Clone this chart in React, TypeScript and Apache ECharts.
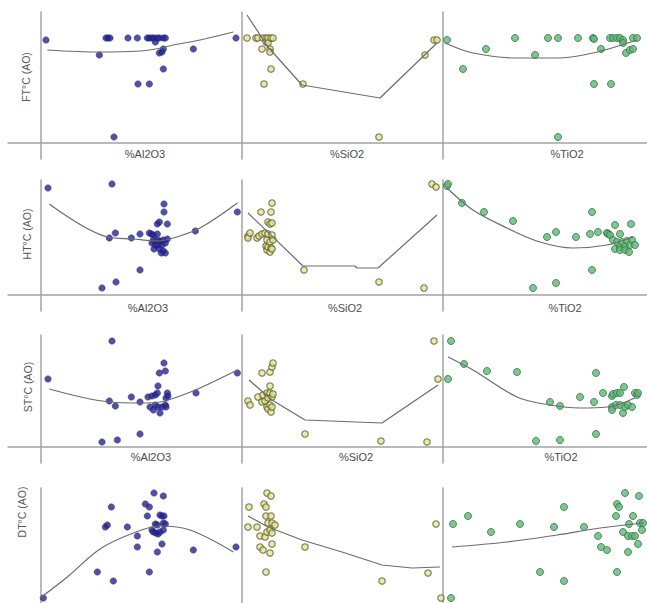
import React, { useEffect, useRef } from "react";
import * as echarts from "echarts";

type Pt = [number, number];

// Ash fusion temperatures (°C, oxidising atmosphere) against ash oxide content.
const ROW_TITLES = ["FT°C (AO)", "HT°C (AO)", "ST°C (AO)", "DT°C (AO)"];
const OXIDE_LABELS = ["%Al2O3", "%SiO2", "%TiO2"];

// ---- FT ----
const FT_AL2O3: Pt[] = [
  [10.7, 1592], [18.7, 1532], [19.7, 1600], [20.0, 1600], [20.3, 1600], [20.9, 1204],
  [23.0, 1600], [24.4, 1600], [24.5, 1416], [25.9, 1600], [26.2, 1600], [26.2, 1416],
  [26.6, 1600], [26.9, 1600], [27.1, 1584], [27.4, 1600], [27.7, 1600], [27.7, 1540],
  [28.1, 1544], [28.3, 1600], [28.3, 1556], [28.3, 1476], [28.6, 1600], [32.8, 1556],
  [39.2, 1600],
];
const FT_AL2O3_FIT: Pt[] = [
  [10.9, 1552], [18.8, 1544], [24.8, 1548], [27.4, 1557], [29.8, 1572], [33.8, 1592], [38.8, 1624],
];
const FT_SIO2: Pt[] = [
  [21.5, 1600], [24.2, 1600], [24.8, 1600], [26.0, 1556], [26.3, 1600], [26.6, 1416],
  [27.2, 1600], [27.2, 1584], [27.8, 1600], [27.8, 1580], [28.4, 1556], [28.4, 1544],
  [28.7, 1600], [28.7, 1476], [29.3, 1600], [38.3, 1416], [61.1, 1204], [74.9, 1532],
  [77.6, 1592], [78.5, 1592],
];
const FT_SIO2_FIT: Pt[] = [
  [21.5, 1692], [27.8, 1564], [38.0, 1412], [61.4, 1360], [78.5, 1580],
];
const FT_TIO2: Pt[] = [
  [0.04, 1592], [0.2, 1476], [0.43, 1556], [0.72, 1600], [0.92, 1532], [1.05, 1600],
  [1.15, 1600], [1.15, 1204], [1.35, 1600], [1.5, 1600], [1.51, 1596], [1.51, 1416],
  [1.58, 1556], [1.67, 1600], [1.68, 1416], [1.7, 1600], [1.74, 1600], [1.77, 1600],
  [1.8, 1592], [1.8, 1580], [1.83, 1540], [1.87, 1552], [1.9, 1600], [1.9, 1556],
  [1.94, 1600],
];
const FT_TIO2_FIT: Pt[] = [
  [0.02, 1580], [0.3, 1540], [0.74, 1520], [1.14, 1520], [1.5, 1540], [1.94, 1592],
];

// ---- HT ----
const HT_AL2O3: Pt[] = [
  [11.0, 1578], [19.1, 1178], [20.2, 1378], [20.6, 1594], [21.1, 1398], [21.2, 1202],
  [23.5, 1378], [24.8, 1394], [24.8, 1250], [26.2, 1398], [26.5, 1394], [26.6, 1358],
  [26.8, 1390], [26.8, 1370], [26.9, 1334], [27.1, 1350], [27.4, 1434], [27.4, 1394],
  [27.4, 1370], [27.5, 1350], [27.7, 1442], [27.7, 1334], [27.8, 1366], [28.0, 1318],
  [28.1, 1350], [28.3, 1370], [28.3, 1326], [28.4, 1514], [28.4, 1482], [28.6, 1358],
  [28.6, 1318], [28.9, 1434], [28.9, 1374], [33.1, 1406], [39.4, 1482],
];
const HT_AL2O3_FIT: Pt[] = [
  [11.2, 1514], [19.9, 1382], [23.8, 1374], [27.4, 1366], [29.8, 1378], [33.8, 1418], [39.4, 1518],
];
const HT_SIO2: Pt[] = [
  [21.8, 1386], [21.8, 1378], [22.4, 1398], [24.5, 1378], [25.1, 1386], [25.7, 1482],
  [26.0, 1394], [26.9, 1398], [27.2, 1346], [27.5, 1370], [27.5, 1330], [27.8, 1442],
  [27.8, 1394], [27.8, 1342], [28.4, 1434], [28.4, 1362], [28.4, 1322], [28.7, 1482],
  [28.7, 1338], [29.0, 1518], [29.0, 1438], [29.0, 1390], [29.0, 1334], [29.3, 1370],
  [38.6, 1250], [61.1, 1202], [74.6, 1178], [77.0, 1594], [78.2, 1582],
];
const HT_SIO2_FIT: Pt[] = [
  [21.8, 1478], [38.3, 1266], [53.9, 1266], [54.5, 1258], [60.8, 1258], [78.5, 1470],
];
const HT_TIO2: Pt[] = [
  [0.04, 1586], [0.05, 1594], [0.19, 1518], [0.41, 1482], [0.7, 1446], [0.9, 1178],
  [1.04, 1382], [1.13, 1402], [1.13, 1198], [1.33, 1382], [1.47, 1394], [1.49, 1482],
  [1.49, 1250], [1.55, 1402], [1.64, 1398], [1.65, 1394], [1.67, 1390], [1.7, 1370],
  [1.72, 1430], [1.72, 1334], [1.74, 1362], [1.77, 1394], [1.77, 1342], [1.77, 1330],
  [1.79, 1362], [1.82, 1346], [1.82, 1330], [1.84, 1366], [1.86, 1322], [1.87, 1350],
  [1.88, 1434], [1.89, 1370], [1.92, 1350],
];
const HT_TIO2_FIT: Pt[] = [
  [0.04, 1578], [0.3, 1490], [0.64, 1418], [0.97, 1362], [1.3, 1338], [1.64, 1350], [1.9, 1382],
];

// ---- ST ----
const ST_AL2O3: Pt[] = [
  [11.0, 1402], [19.1, 1150], [20.2, 1314], [20.6, 1554], [21.1, 1294], [21.4, 1158],
  [23.5, 1330], [24.8, 1310], [24.8, 1182], [26.0, 1330], [26.3, 1290], [26.6, 1334],
  [26.8, 1278], [27.1, 1338], [27.1, 1298], [27.4, 1346], [27.5, 1374], [27.5, 1290],
  [27.7, 1426], [27.8, 1266], [28.1, 1290], [28.4, 1466], [28.6, 1434], [28.6, 1298],
  [28.7, 1326], [28.7, 1290], [28.9, 1346], [29.0, 1334], [33.2, 1346], [39.4, 1426],
];
const ST_AL2O3_FIT: Pt[] = [
  [11.2, 1362], [20.3, 1310], [24.8, 1306], [27.8, 1310], [30.4, 1330], [33.8, 1366], [39.4, 1438],
];
const ST_SIO2: Pt[] = [
  [21.8, 1314], [22.4, 1298], [24.8, 1330], [26.0, 1426], [26.0, 1310], [26.3, 1338],
  [26.9, 1314], [27.5, 1346], [27.5, 1290], [27.8, 1326], [27.8, 1282], [28.4, 1430],
  [28.4, 1374], [28.4, 1346], [28.4, 1298], [28.7, 1270], [29.0, 1450], [29.0, 1330],
  [29.0, 1290], [29.3, 1466], [29.3, 1342], [38.9, 1182], [61.7, 1154], [75.5, 1150],
  [77.6, 1554], [78.8, 1402],
];
const ST_SIO2_FIT: Pt[] = [
  [22.1, 1398], [29.0, 1318], [38.9, 1238], [62.0, 1226], [78.8, 1378],
];
const ST_TIO2: Pt[] = [
  [0.05, 1402], [0.08, 1554], [0.21, 1462], [0.44, 1434], [0.74, 1430], [0.93, 1154],
  [1.07, 1310], [1.17, 1294], [1.17, 1158], [1.37, 1330], [1.51, 1310], [1.53, 1426],
  [1.53, 1182], [1.6, 1346], [1.69, 1334], [1.69, 1290], [1.69, 1278], [1.7, 1342],
  [1.73, 1298], [1.74, 1346], [1.77, 1346], [1.77, 1298], [1.8, 1266], [1.81, 1370],
  [1.82, 1290], [1.85, 1298], [1.89, 1290], [1.92, 1346], [1.94, 1338], [1.95, 1346],
];
const ST_TIO2_FIT: Pt[] = [
  [0.05, 1490], [0.3, 1438], [0.74, 1330], [1.07, 1298], [1.37, 1286], [1.64, 1290], [1.92, 1326],
];

// ---- DT ----
const DT_AL2O3: Pt[] = [
  [10.3, 1136], [18.4, 1240], [19.6, 1420], [19.9, 1428], [20.5, 1500], [20.8, 1204],
  [22.9, 1420], [24.4, 1384], [24.4, 1340], [25.6, 1512], [25.9, 1464], [26.2, 1500],
  [26.2, 1240], [26.6, 1408], [26.8, 1400], [26.9, 1556], [27.1, 1432], [27.2, 1396],
  [27.4, 1428], [27.4, 1320], [27.5, 1392], [27.8, 1468], [27.8, 1400], [28.1, 1464],
  [28.1, 1352], [28.3, 1544], [28.3, 1436], [28.3, 1408], [28.4, 1464], [28.6, 1432],
  [32.8, 1328], [39.2, 1340],
];
const DT_AL2O3_FIT: Pt[] = [
  [9.8, 1136], [13.9, 1220], [18.8, 1332], [23.8, 1396], [27.8, 1424], [32.3, 1408], [38.8, 1320],
];
const DT_SIO2: Pt[] = [
  [21.8, 1420], [22.1, 1500], [24.5, 1420], [25.4, 1384], [25.4, 1340], [26.3, 1328],
  [26.6, 1512], [26.9, 1380], [27.2, 1500], [27.2, 1464], [27.2, 1240], [27.5, 1556],
  [27.5, 1400], [27.8, 1436], [28.4, 1408], [28.4, 1316], [28.7, 1544], [28.7, 1464],
  [29.0, 1436], [29.0, 1396], [29.0, 1352], [29.9, 1428], [38.9, 1340], [62.0, 1204],
  [75.8, 1236], [78.2, 1432], [79.7, 1136],
];
const DT_SIO2_FIT: Pt[] = [
  [21.8, 1464], [27.8, 1420], [38.0, 1368], [50.0, 1320], [62.0, 1268], [71.0, 1256], [79.4, 1260],
];
const DT_TIO2: Pt[] = [
  [0.08, 1136], [0.1, 1432], [0.25, 1464], [0.48, 1400], [0.77, 1432], [0.97, 1240],
  [1.11, 1420], [1.21, 1500], [1.21, 1204], [1.41, 1420], [1.55, 1384], [1.58, 1340],
  [1.64, 1328], [1.73, 1464], [1.74, 1512], [1.74, 1240], [1.76, 1500], [1.8, 1400],
  [1.82, 1556], [1.85, 1384], [1.85, 1320], [1.86, 1432], [1.89, 1384], [1.9, 1464],
  [1.92, 1384], [1.95, 1352], [1.96, 1544], [1.97, 1436], [1.99, 1408], [2.0, 1436],
];
const DT_TIO2_FIT: Pt[] = [
  [0.09, 1340], [0.64, 1360], [1.14, 1388], [1.57, 1416], [2.0, 1436],
];

const POINTS: Pt[][][] = [
  [FT_AL2O3, FT_SIO2, FT_TIO2],
  [HT_AL2O3, HT_SIO2, HT_TIO2],
  [ST_AL2O3, ST_SIO2, ST_TIO2],
  [DT_AL2O3, DT_SIO2, DT_TIO2],
];
const FITS: Pt[][][] = [
  [FT_AL2O3_FIT, FT_SIO2_FIT, FT_TIO2_FIT],
  [HT_AL2O3_FIT, HT_SIO2_FIT, HT_TIO2_FIT],
  [ST_AL2O3_FIT, ST_SIO2_FIT, ST_TIO2_FIT],
  [DT_AL2O3_FIT, DT_SIO2_FIT, DT_TIO2_FIT],
];

// axis extents
const X_RANGE: Pt[] = [[5, 40.1], [20, 80.3], [0, 2.04]];
const Y_RANGE: Pt[] = [[1116, 1704], [1086, 1610], [1066, 1578], [1016, 1576]];

// panel layout
const COL_LEFT = [8, 242, 443];
const COL_WIDTH = [234, 201, 204];
const Y_AXIS_OFFSET = [-33, 0, 0]; // first column: rule sits inside, x rule runs to the page edge
const ROW_TOP = [12, 180, 335, 488];
const ROW_HEIGHT = [147, 131, 128, 140];
const RULE_DROP = 16; // vertical rules run past the horizontal ones
const NAME_GAP = [5.5, 7.5, 4.5, 5];
const NAME_PAD = [
  [40, 9, 44],
  [46, 5, 40],
  [52, 27, 32],
];
const TITLE_POS: Pt[] = [[26, 77], [27, 234], [28, 387], [22, 512]];

const FONT = "'Liberation Sans', Arial, sans-serif";
const RULE = { color: "#a3a3a3", width: 1.5 };
const MARKS = [
  { color: "#262690", borderColor: "#1a1a70", borderWidth: 0.5 },
  { color: "#e2e29c", borderColor: "#5c5c24", borderWidth: 1.1 },
  { color: "#62b775", borderColor: "#2a7842", borderWidth: 1 },
];
const MARK_SIZE = [6.5, 6.5, 7];

function buildOption(): echarts.EChartsCoreOption {
  const grid: any[] = [];
  const xAxis: any[] = [];
  const yAxis: any[] = [];
  const series: any[] = [];
  for (let r = 0; r < 4; r++) {
    for (let c = 0; c < 3; c++) {
      const idx = r * 3 + c;
      grid.push({
        left: COL_LEFT[c],
        top: ROW_TOP[r],
        width: COL_WIDTH[c],
        height: ROW_HEIGHT[r],
        outerBoundsMode: "none",
        containLabel: false,
      });
      const pad = r < 3 ? NAME_PAD[r][c] : 0;
      xAxis.push({
        gridIndex: idx,
        type: "value",
        min: X_RANGE[c][0],
        max: X_RANGE[c][1],
        offset: -RULE_DROP,
        axisLine: { show: true, onZero: false, lineStyle: RULE },
        axisTick: { show: false },
        axisLabel: { show: false },
        splitLine: { show: false },
        name: r < 3 ? OXIDE_LABELS[c] : "",
        nameLocation: "middle",
        nameGap: NAME_GAP[r],
        nameTextStyle: {
          fontFamily: FONT,
          fontSize: 11,
          color: "#4d4d4d",
          padding: [0, 0, 0, pad],
        },
      });
      yAxis.push({
        gridIndex: idx,
        type: "value",
        min: Y_RANGE[r][0],
        max: Y_RANGE[r][1],
        offset: Y_AXIS_OFFSET[c],
        axisLine: { show: true, onZero: false, lineStyle: RULE },
        axisTick: { show: false },
        axisLabel: { show: false },
        splitLine: { show: false },
      });
      series.push({
        type: "scatter",
        xAxisIndex: idx,
        yAxisIndex: idx,
        data: POINTS[r][c],
        symbol: "circle",
        symbolSize: MARK_SIZE[c],
        itemStyle: MARKS[c],
        z: 2,
      });
      series.push({
        type: "line",
        xAxisIndex: idx,
        yAxisIndex: idx,
        data: FITS[r][c],
        symbol: "none",
        smooth: c === 1 ? false : 0.35,
        lineStyle: { color: "#6c6c6c", width: 1.2 },
        z: 3,
      });
    }
  }
  const graphic = ROW_TITLES.map((t, r) => ({
    type: "text",
    x: TITLE_POS[r][0],
    y: TITLE_POS[r][1],
    rotation: Math.PI / 2,
    style: {
      text: t,
      fill: "#555",
      font: `10.5px ${FONT}`,
      align: "center",
      verticalAlign: "middle",
    },
  }));
  return {
    animation: false,
    backgroundColor: "#fff",
    grid,
    xAxis,
    yAxis,
    series,
    graphic,
  };
}

export default function App() {
  const ref = useRef<HTMLDivElement>(null);
  useEffect(() => {
    if (!ref.current) return;
    const chart = echarts.init(ref.current, undefined, { renderer: "svg" });
    chart.setOption(buildOption());
    return () => chart.dispose();
  }, []);
  return (
    <div
      ref={ref}
      style={{ position: "absolute", left: 0, top: 0, width: 647, height: 603 }}
    />
  );
}
